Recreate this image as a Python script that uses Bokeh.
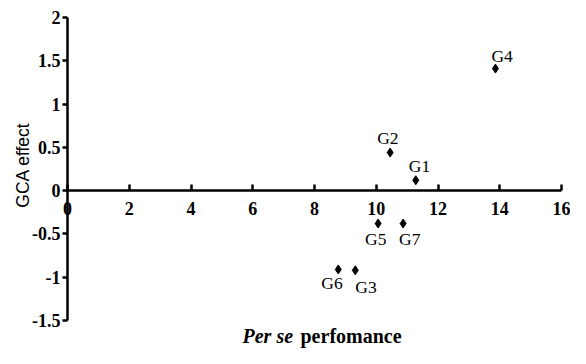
import math
from bokeh.plotting import figure
from bokeh.models import LinearAxis, FixedTicker, ColumnDataSource, Range1d
from bokeh.embed import file_html
from bokeh.resources import INLINE
from bokeh.core.properties import value

# ---- data ----
genotypes = ["G1", "G2", "G3", "G4", "G5", "G6", "G7"]
per_se = [11.28, 10.45, 9.32, 13.86, 10.06, 8.77, 10.87]
gca = [0.12, 0.44, -0.92, 1.41, -0.38, -0.91, -0.38]
x_ticks = [0, 2, 4, 6, 8, 10, 12, 14, 16]
y_ticks = [-1.5, -1, -0.5, 0, 0.5, 1, 1.5, 2]
y_tick_labels = ["-1.5", "-1", "-0.5", "0", "0.5", "1", "1.5", "2"]
x_title_parts = ["Per se", "perfomance"]
y_title = "GCA effect"

# label placement (pixel offsets from each point, style only)
label_dx = [-7, -13, 0, -4, -13, -17, -4]
label_dy = [-14, -15, 17, -13, 15, 14, 15]

SERIF = "Liberation Serif"
SANS = "Liberation Sans"

W, H = 570, 348
# pixel layout of the plotting area
X0_PX, X16_PX = 67, 561
YTOP_PX, YBOT_PX = 17, 320
x_scale = (X16_PX - X0_PX) / (x_ticks[-1] - x_ticks[0])
y_scale = (YBOT_PX - YTOP_PX) / (y_ticks[-1] - y_ticks[0])
x_range = Range1d(x_ticks[0] - X0_PX / x_scale, x_ticks[-1] + (W - X16_PX) / x_scale)
y_range = Range1d(y_ticks[0] - (H - YBOT_PX) / y_scale, y_ticks[-1] + YTOP_PX / y_scale)

src = ColumnDataSource(dict(x=per_se, y=gca, name=genotypes, dx=label_dx, dy=label_dy))

p = figure(width=W, height=H, output_backend="svg", toolbar_location=None,
           x_range=x_range, y_range=y_range,
           x_axis_location=None, y_axis_location=None, min_border=0)
p.grid.visible = False
p.outline_line_color = None
p.background_fill_color = "white"
p.border_fill_color = "white"

yaxis = LinearAxis(ticker=FixedTicker(ticks=y_ticks), fixed_location=0,
                   major_label_overrides=dict(zip(y_ticks, y_tick_labels)),
                   bounds=(y_ticks[0], y_ticks[-1]))
yaxis.axis_line_width = 2.5
yaxis.axis_line_color = "black"
yaxis.major_tick_line_width = 2.5
yaxis.major_tick_in = 0
yaxis.major_tick_out = 5
yaxis.minor_tick_line_color = None
yaxis.major_label_text_font = SERIF
yaxis.major_label_text_font_style = "bold"
yaxis.major_label_text_font_size = "18px"
yaxis.major_label_text_color = "black"
yaxis.major_label_standoff = 2
p.add_layout(yaxis, "left")

xaxis = LinearAxis(ticker=FixedTicker(ticks=x_ticks), fixed_location=0,
                   bounds=(x_ticks[0], x_ticks[-1]))
xaxis.axis_line_width = 2.5
xaxis.axis_line_color = "black"
xaxis.major_tick_line_width = 2.5
xaxis.major_tick_in = 6
xaxis.major_tick_out = 0
xaxis.minor_tick_line_color = None
xaxis.major_label_text_font = SERIF
xaxis.major_label_text_font_style = "bold"
xaxis.major_label_text_font_size = "18px"
xaxis.major_label_text_color = "black"
xaxis.major_label_standoff = 11
p.add_layout(xaxis, "below")

p.scatter("x", "y", source=src, marker="diamond", size=9, color="black")
p.text("x", "y", text="name", source=src, x_offset="dx", y_offset="dy",
       text_font=value(SERIF), text_font_size="17.5px", text_color="black",
       text_baseline="alphabetic", text_align="left")

# axis titles
x_mid = (x_ticks[0] + x_ticks[-1]) / 2
p.text(x=[x_mid], y=[y_ticks[0]], text=[x_title_parts[0]], x_offset=-72, y_offset=15,
       text_font=value(SERIF), text_font_style="bold italic", text_font_size="20px",
       text_color="black", text_baseline="alphabetic", text_align="left")
p.text(x=[x_mid], y=[y_ticks[0]], text=[x_title_parts[1]], x_offset=-14, y_offset=15,
       text_font=value(SERIF), text_font_style="bold", text_font_size="20px",
       text_color="black", text_baseline="alphabetic", text_align="left")

y_mid = (y_ticks[0] + y_ticks[-1]) / 2
p.text(x=[x_ticks[0]], y=[y_mid], text=[y_title], x_offset=-45, y_offset=-4,
       angle=math.pi / 2, text_font=value(SANS), text_font_size="17.5px",
       text_color="black", text_baseline="middle", text_align="center")

open("out.html", "w").write(file_html(p, INLINE))
